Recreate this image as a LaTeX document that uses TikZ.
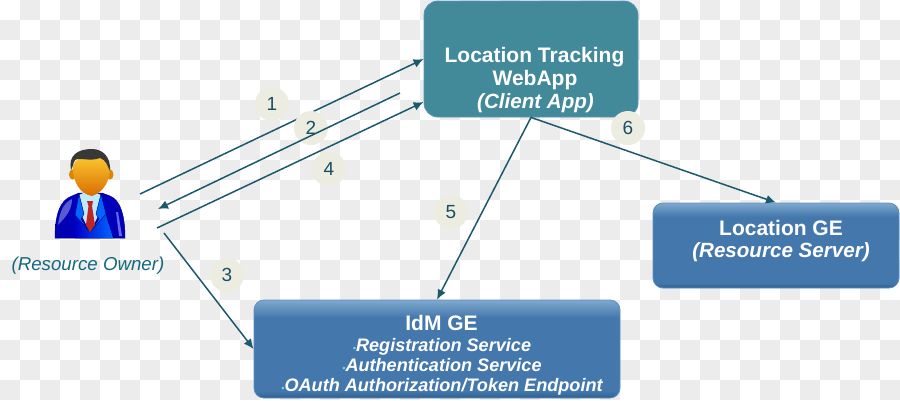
\documentclass[tikz,border=0pt]{standalone}
\usepackage{fontspec}
\setmainfont{Liberation Sans}
\usetikzlibrary{arrows.meta,calc}
\definecolor{checker}{HTML}{ECECEC}
\definecolor{linkcol}{HTML}{1B5A6C}
\definecolor{inkcol}{HTML}{174F66}
\definecolor{badge}{HTML}{EDECE0}
\definecolor{clientfill}{HTML}{428A9A}
\definecolor{serverfill}{HTML}{4478AC}
\definecolor{serveredge}{HTML}{5C90C0}
\definecolor{serverlight}{HTML}{7FA9CE}
\definecolor{serverdark}{HTML}{2F5F8E}
\definecolor{bulletcol}{HTML}{7FD0E0}
% Glossy band along the top, darker lip along the bottom of the server boxes
\pgfdeclareverticalshading{serverglossA}{100bp}{color(0bp)=(serverdark); color(25bp)=(serverdark); color(28.5bp)=(serverfill); color(66bp)=(serverfill); color(75bp)=(serverlight); color(100bp)=(serverlight)}
\pgfdeclareverticalshading{serverglossB}{100bp}{color(0bp)=(serverdark); color(25bp)=(serverdark); color(28bp)=(serverfill); color(67bp)=(serverfill); color(75bp)=(serverlight); color(100bp)=(serverlight)}
\tikzset{
  link/.style={draw=linkcol,line width=1.5pt},
  tip/.style={-{Latex[length=10pt,width=9pt]}},
  numdisc/.style={circle,fill=badge,minimum size=34pt,inner sep=0pt,text=inkcol,font=\fontsize{19}{19}\selectfont},
  clientbox/.style={rounded corners=14pt,fill=clientfill,draw=serveredge,line width=0.8pt,minimum width=214pt,minimum height=116pt,inner sep=0pt},
  serverbox/.style={rounded corners=10pt,draw=serveredge,line width=0.8pt,inner sep=0pt},
  head/.style={text=white,font=\fontsize{21}{21}\bfseries\selectfont,anchor=base,inner sep=0pt},
  sub/.style={text=white,font=\fontsize{20.6}{20.6}\bfseries\itshape\selectfont,anchor=base,inner sep=0pt},
  item/.style={text=white,font=\fontsize{18.1}{18.1}\bfseries\itshape\selectfont,anchor=base,inner sep=0pt},
}
\newcommand{\dotmark}{{\color{bulletcol}\fontsize{9}{9}\selectfont\textbullet}}
\begin{document}
\begin{tikzpicture}[x=1pt,y=-1pt]
\useasboundingbox (0,0) rectangle (900,400);
% Checkered backdrop
\fill[white] (0,0) rectangle (900,400);
\foreach \i in {0,...,44}{
  \foreach \j in {0,...,19}{
    \pgfmathparse{int(mod(\i+\j,2))}
    \ifnum\pgfmathresult=1
      \fill[checker] (\i*20,\j*20) rectangle ++(20,20);
    \fi
  }
}
% Boxes
\node[clientbox] (client) at (531,59) {};
\node[serverbox,shading=serverglossA,minimum width=366pt,minimum height=98pt] (idm) at (437,349) {};
\node[serverbox,shading=serverglossB,minimum width=246pt,minimum height=85pt] (locge) at (776,245.5) {};
% Box captions
\node[head] (clientA) at (534.5,62) {Location Tracking};
\node[head] (clientB) at (535,85) {WebApp};
\node[sub] (clientC) at (535.5,108) {(Client App)};
\node[head] (locA) at (781,235) {Location GE};
\node[sub] (locB) at (781,257) {(Resource Server)};
\node[head] (idmA) at (441.5,330) {IdM GE};
\node[item] (idmB) at (442,351) {\dotmark Registration Service};
\node[item] (idmC) at (442,371) {\dotmark Authentication Service};
\node[item] (idmD) at (442,391) {\dotmark OAuth Authorization/Token Endpoint};
% Resource owner figure
\begin{scope}
  % jacket
  \path[shade,top color=blue!75!black,bottom color=blue!70!black,draw=blue!45!black,line width=0.5pt]
    (55,238) .. controls (55,215) and (60,200) .. (72,196) -- (79,193) -- (102,193) -- (110,196)
    .. controls (120,200) and (125,215) .. (125,238) -- cycle;
  \fill[left color=blue!78!black,right color=blue!60!cyan] (75,238) -- (75,215) -- (90,232) -- (105,212) -- (113,238) -- cycle;
  \fill[white,opacity=0.35] (58,225) .. controls (60,210) and (64,203) .. (72,199) .. controls (72,208) and (68,215) .. (58,225) -- cycle;
  \fill[blue!50!white,opacity=0.8] (119,236) -- (116,212) -- (118,212) -- (122,236) -- cycle;
  % shirt
  \fill[cyan!25!white] (79,195) -- (90,190) -- (101,195) -- (101,210) -- (90,232) -- (79,210) -- cycle;
  % lapels
  \draw[blue!45!black,fill=blue!60!cyan,line width=0.4pt] (79,194) -- (75,215) -- (90,232) -- (81,219) -- (84,214) -- cycle;
  \draw[blue!45!black,fill=blue!60!cyan,line width=0.4pt] (101,194) -- (106,214) -- (90,232) -- (99,219) -- (96,214) -- cycle;
  % tie
  \fill[red!70!black!85!white] (87,201) -- (93,201) -- (92,206) -- (95,225) -- (90,232) -- (86,225) -- (88.5,206) -- cycle;
  % ears
  \fill[orange!75!yellow!85!black] (72.5,174.5) ellipse (3.5 and 5);
  \fill[orange!75!yellow!85!black] (110,174.5) ellipse (3.5 and 5);
  % face
  \path[shade,top color=orange!45!yellow!80!white,bottom color=orange!85!black]
    (73,168) .. controls (73,152) and (109,152) .. (110,168) .. controls (110,180) and (104,192) .. (92,196)
    .. controls (80,194) and (73,182) .. (73,168) -- cycle;
  % hair
  \fill[black!78] (71,170) .. controls (68,155) and (78,149) .. (92,149) .. controls (102,149) and (111,156) .. (110,171)
    .. controls (107,165) and (106,160) .. (100,158) .. controls (90,162) and (80,157) .. (75,160) .. controls (73,163) and (73,167) .. (71,170) -- cycle;
\end{scope}
\node[text=inkcol!85!cyan,font=\fontsize{18.7}{18.7}\itshape\selectfont,anchor=base,inner sep=0pt] (owner) at (88,270) {(Resource Owner)};
% Free ends of the connectors beside the owner and the client
\coordinate (startA) at (140,194);
\coordinate (startB) at (400,93);
\coordinate (endB) at (158,209);
\coordinate (startC) at (164,233);
\coordinate (startD) at (157,228);
% Discs and connectors, stacked so that disc 2 hides link 1 but lies under link 2
\draw[link,tip] (startA) -- (client.west);
\node[numdisc] (n1) at (272,104) {1};
\node[numdisc] (n2) at (311,128) {2};
\draw[link,tip] (startB) -- (endB);
\node[numdisc] (n4) at (329,169) {4};
\draw[link,tip] (startD) -- ([yshift=-43pt]client.west);
\draw[link,tip] (startC) -- (idm.west);
\draw[link,tip] (client.south) -- (idm.north);
\draw[link,tip] (client.south) -- (locge.north);
\node[numdisc] (n3) at (227,275) {3};
\node[numdisc] (n5) at (451,212) {5};
\node[numdisc] (n6) at (628,128) {6};
\end{tikzpicture}
\end{document}
